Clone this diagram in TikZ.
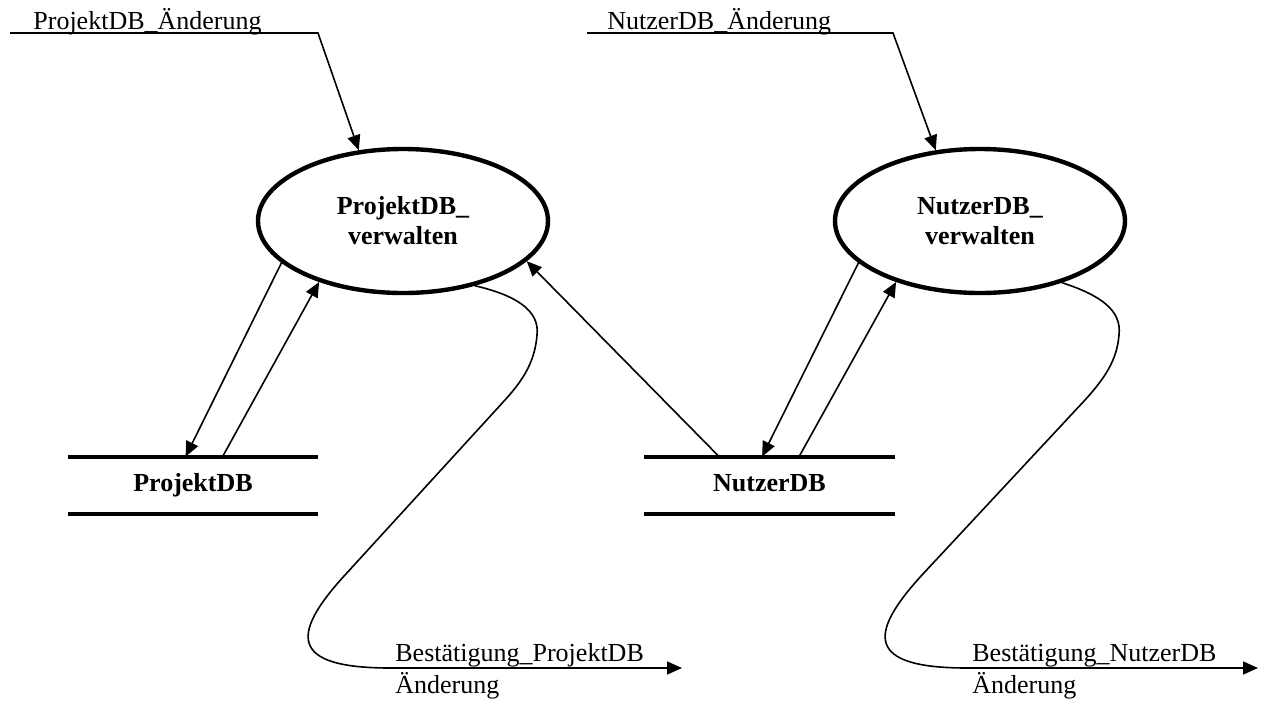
\documentclass[tikz,border=0pt]{standalone}
\usepackage{fontspec}
\setmainfont{Liberation Serif}
\usetikzlibrary{arrows.meta, shapes.geometric}
\tikzset{
	proc/.style={ellipse, draw, line width=2.2pt, minimum width=145pt,
		minimum height=72pt, inner sep=2pt, align=center,
		font=\fontsize{13}{15}\selectfont\bfseries},
	store/.style={minimum width=125pt, minimum height=28.5pt, inner sep=0pt,
		text height=9pt, text depth=3pt,
		font=\fontsize{13}{15}\selectfont\bfseries},
	dbline/.style={line width=2pt},
	flowlbl/.style={inner sep=0pt, align=left, font=\fontsize{13}{16}\selectfont},
	arr/.style={-{Triangle[length=7.5pt, width=6.5pt]}, line width=0.8pt},
}

\begin{document}
\begin{tikzpicture}[x=0.5pt, y=-0.5pt]
	\useasboundingbox (0,0) rectangle (1266,703);
	% processes and data stores
	\node[proc] (pv) at (403,221) {ProjektDB\_\\verwalten};
	\node[proc] (nv) at (980,221) {NutzerDB\_\\verwalten};
	\node[store] (pdb) at (193,485.5) {ProjektDB};
	\node[store] (ndb) at (769.5,485.5) {NutzerDB};
	\foreach \s in {pdb, ndb}
		\draw[dbline] (\s.north west) -- (\s.north east) (\s.south west) -- (\s.south east);
	% incoming flows
	\coordinate (pin) at (10,33);
	\coordinate (pknick) at (318,33);
	\node[flowlbl, anchor=base west] (pchg) at (33,29.5) {ProjektDB\_Änderung};
	\draw[arr] (pin) -- (pknick) -- (pv.122);
	\coordinate (nin) at (587,33);
	\coordinate (nknick) at (893,33);
	\node[flowlbl, anchor=base west] (nchg) at (607,29.5) {NutzerDB\_Änderung};
	\draw[arr] (nin) -- (nknick) -- (nv.122);
	% read / write
	\foreach \v/\d in {pv/pdb, nv/ndb} {
		\draw[arr] (\v.199) -- ([xshift=59pt]\d.north west);
		\draw[arr] ([xshift=77.5pt]\d.north west) -- (\v.216);
	}
	\draw[arr] ([xshift=37.5pt]ndb.north west) -- (pv.342);
	% outgoing flows
	\coordinate (pout) at (682,668);
	\node[flowlbl, anchor=base west] (pconf) at (395,693) {Bestätigung\_ProjektDB\\Änderung};
	\draw[arr] (pv.318) .. controls (515,295) and (540,310) .. (537,335)
		.. controls (535,360) and (525,378) .. (505,400) -- (345,575)
		.. controls (290,635) and (290,668) .. (390,668) -- (pout);
	\coordinate (nout) at (1258,668);
	\node[flowlbl, anchor=base west] (nconf) at (972,693) {Bestätigung\_NutzerDB\\Änderung};
	\draw[arr] (nv.323) .. controls (1100,295) and (1122,310) .. (1119,335)
		.. controls (1117,360) and (1105,378) .. (1085,400) -- (922,575)
		.. controls (867,635) and (867,668) .. (967,668) -- (nout);
\end{tikzpicture}
\end{document}
